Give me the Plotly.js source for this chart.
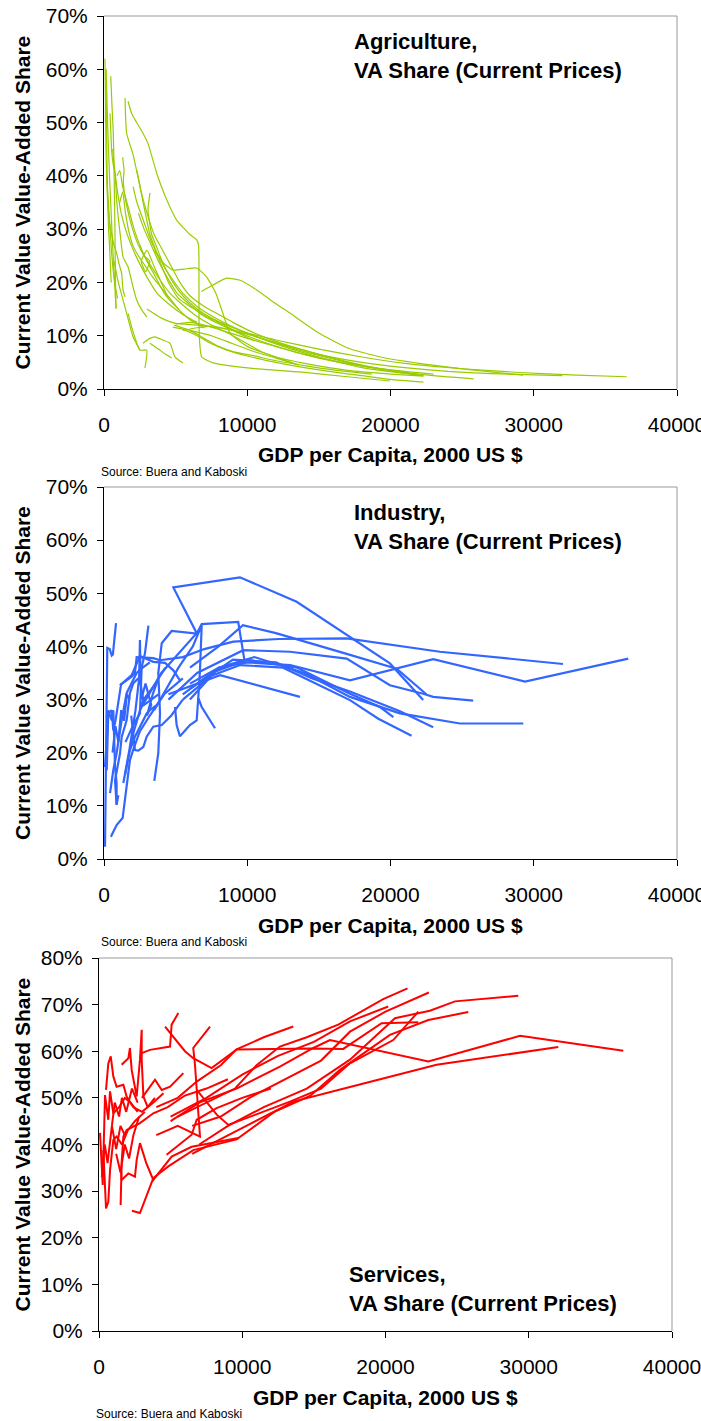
<!DOCTYPE html>
<html><head><meta charset="utf-8">
<script src="https://cdn.plot.ly/plotly-3.0.1.min.js"></script>
<style>html,body{margin:0;padding:0;background:#fff}#chart{width:701px;height:1421px}</style>
</head><body><div id="chart"></div>
<script>
// ---------- DATA (GDP per capita, 2000 US$ ; value-added share, %) ----------
const xTickVals = [0, 10000, 20000, 30000, 40000];
const xTickText = ['0', '10000', '20000', '30000', '40000'];
const panelTitles = ['Agriculture,<br>VA Share (Current Prices)', 'Industry,<br>VA Share (Current Prices)', 'Services,<br>VA Share (Current Prices)'];
const yTitle = 'Current Value Value-Added Share';
const xTitle = 'GDP per Capita, 2000 US $';
const sourceText = 'Source: Buera and Kaboski';

const agriX = [
 [70,100,140,200,280,400,540,700,880,1050,1230,1330,1470],
 [140,180,230,300,400,500,600,700,800,840],
 [420,480,540,650,770,880,1000,1120,1330,1680,2030,2280,2600,3000],
 [470,560,650,720,770,800,840],
 [100,130,160,200,250,320,400,500],
 [200,260,330,420,520,650,800,950],
 [1470,1580,2030,2510,3210,3900,4500,5200,6000,6470,7000,8000,9500,12000,15000,18000,21000,23000],
 [1680,1930,2280,2720,3080,3680,4380,5070,6000,6470,6600,6630,6650,6820,7620,10190,13680,17000,19960],
 [2030,2300,2700,3100,3500,3900,4300,4820,5500,6500,7500,9000,11000,14000,17000,20000,22000],
 [3210,3070,3330,3680,4200,4800,5500,6500,8000,10000,12500,15000,18000,22300],
 [1300,1400,1350,1470,1700,2000,2400,2800,3300,3900,4600,5400,6300,7500,9000,11000,13600],
 [6800,7600,8560,9500,10660,12000,13000,15000,17000,19300,22000,24000,27000,29250],
 [3500,4200,4820,5600,6470,7170,7800,8300,8800,10000,12000,14000,17000,20000,22300],
 [3000,4000,5000,6500,8000,10000,12000,15000,18000,21000,25000,29000,33000,36500],
 [4800,5500,6500,7500,8500,10000,12000,14000,16000,18000,20000,22300],
 [5000,6000,7000,8000,10000,12000,14000,17000,20000,23000,25800],
 [5500,6500,7500,9000,11000,13000,15000,18000,21000,24000,27000,32000],
 [6000,7500,9000,10500,12000,13600],
 [4900,6000,7000,8000,9000,10500,12000,14000,16000,18700],
 [1680,2000,2510,2980,2860],
 [3210,3800,4300,4720],
 [2720,3200,3560,4100,4600,4960,5520],
 [700,1000,1300,1600,2000,2510],
 [2500,2800,3200,2900,2600,3000,3500,4000,4500],
 [2300,2600,3000,3500,4100,4700,5300,6000,7000,8000,9000,10500,12500,15000,18000,20000],
 [900,1100,1300,1500,1800,2100,2500,3000,3600,4200,5000,6000,7000],
 [1100,1300,1500,1700,2000,2400,2900,3400,4000,4600,5200],
 [600,800,1000,1200,1500,1900,2400,3000,3700,4500,5500,6500],
 [2400,2800,3300,3800,4400,5100,5900,6800,7800,9000,10500]
];
const agriY = [
 [62,55,45,39,34,31,29,27,25.5,23.5,21.7,18.6,17.3],
 [60,57,52,46,39,33,27,22,17,15],
 [51.7,48,44.5,42,40.5,35.5,32,29.3,24.8,22.9,19.1,16.7,15,13.5],
 [58.7,53,48,38,29,20,15.2],
 [50,60,54,44,36,30,26,20],
 [40,37,34,30,26,22,19,17],
 [54.6,48,44,38,29,24,20,17,15.5,14.8,13.8,12.5,10.5,8,5.8,4.3,3.3,2.8],
 [54,51.7,50,48,46,40.5,35.5,31.7,29,28,27,20,10,6,4.9,3.9,3.2,2.3,1.5],
 [38,35,32,29,26.5,24.5,22.5,20,17.5,15,13.3,11.5,9.5,7,5,3.4,2.6],
 [36.8,33.6,29,26.6,23,20.5,18,15.5,13,10.5,8,6,4,2.5],
 [43.5,41,39,36,33,30,27,25,23,20.5,18,16,14,12,10,7,4.5],
 [18.3,19.5,20.8,20.4,18.6,16,14.2,10.5,7.7,6,4.8,4.1,3.2,2.6],
 [26,23.5,22.3,22.5,22.7,21,18,14.2,10.5,8,6,4.8,3.5,2.8,2.4],
 [15,13.3,12.3,12,11.5,10.5,9.2,7.5,6,4.8,3.8,3.1,2.6,2.3],
 [11.6,11.2,10,8.5,7.4,6.2,5,4,3.2,2.5,1.8,1.3],
 [12.2,12.5,12,11.2,9.5,8,6.5,4.8,3.5,2.5,1.9],
 [11,11.5,11.8,11,9.5,8,6.5,5,4,3.3,2.9,2.5],
 [11,10,8.5,7,5.8,4.5],
 [12,11,9.5,8,7,6.2,5.3,4.4,3.6,2.8],
 [14.2,11,7.3,7.3,3.9],
 [8.6,7.5,6.5,5.8],
 [8.6,9.5,9.8,9.2,8.6,6,4.9],
 [24,20,17,14,10,7.3],
 [27,25,24,22,24,26,23,20,17],
 [41,37,33,29,26,23,20,17.5,15.5,14,12.5,10.5,8.5,6.5,4.5,3.5],
 [40,41,38,36,33,30,27,24,21,18,15.5,13,11.5],
 [35,37,33,30,27,25,23,21,19,17,15],
 [45,40,36,33,30,27,24,21,18,16,14,12.5],
 [33,30,27,24,21,18,16,14,12.5,11,9]
];

const indX = [
 [2500,4000,6470,4840,9490,13450,19960,22280],
 [3510,3790,3910,3790,4030,4720,6470,6820,9370,9840],
 [3500,5200,6200,6820,6700,6580,6820,7750],
 [6000,8000,9700,12000,16820,20430,22500],
 [1120,1930,2160,2280,3440,3910,5500,7000,9030,12170,16940,23450,32040],
 [4500,6500,9720,12980,16940,19960,22280,22980,25770],
 [6000,8000,10000,13000,17170,22980,29390,36600],
 [5500,7500,10000,13500,17170,19270,20200],
 [6000,8000,10500,14000,17170,20660,24850,29270],
 [5500,7500,9500,12500,17170,19150,21470],
 [6000,9000,12000,14500,17170,20660,22980],
 [4500,6500,8100,13680],
 [70,230,400,540,620,840],
 [70,300,540,650,800,1000,1200],
 [420,650,880,1230,1580,1930,2280,2700,3200],
 [880,770,1120,1230,1580,1810,2050,2400],
 [1350,1580,1810,2050,2280,2510,2740,3100,3600],
 [1470,1810,2160,2510,2980,3210,3700],
 [1500,2000,2510,2630,2860,3100],
 [1800,2200,2450,2510,2550,2800,3300,3800],
 [1900,2000,2160,2400,2750,2980,3440,4030,4700,5500],
 [480,880,1300,1470,1580,1810,2030,2500,3200,4200,5500],
 [190,300,540,650,770,880,880,1000],
 [1120,1930,2510,3440,4260,4840,5300],
 [4960,5070,5300,6000,6470,6580],
 [600,800,1000,1200,1400,1600,1800],
 [2600,2900,3300,3000,3400,3800,4300]
];
const indY = [
 [28,35,42.5,51.1,53,48.4,36.8,29.9],
 [14.7,19.9,27.4,35,40.6,42.9,42.4,44.2,44.6,36.8],
 [28,36,40,44,35.5,30.3,28.6,24.6],
 [36,40,44,42.5,38.7,35.8,31],
 [32.7,34.3,35,38,37.8,37.4,38,39.5,40.9,41.4,41.5,39,36.7],
 [30,35,39.3,39,37.7,32.7,31.1,30.5,29.8],
 [33,36,37,36.5,33.6,37.6,33.4,37.7],
 [31,35,37.5,36,31.1,28.6,26.7],
 [30,36,38,35,30.5,27.4,25.5,25.5],
 [30,34.5,36.5,36,29.9,26.4,23.2],
 [32,37.5,37,34,31.5,27.8,24.8],
 [31,33,34.6,30.5],
 [2.3,39.7,39.5,38.3,38.5,44.4],
 [17.3,27.4,28,24.2,26,30,33],
 [12.4,16.7,19.9,26.1,31.2,33.1,35,36,37],
 [10.2,14.8,19.9,22.9,26.1,31.2,33.1,34],
 [14.3,18,21.1,23.7,26.1,28,29.9,31.2,33],
 [15.8,20.5,23,24.9,27.4,28,29],
 [22,25,27.4,36.1,38.7,43.9],
 [21,28,34,41.2,33,29,30,31],
 [27,24,20.5,20.4,21.1,23,24.9,25.2,27,30],
 [4.2,6.4,7.7,11.5,13,18.6,20.5,24,27,31,34],
 [16.7,28,26.1,28,17.3,14.3,10.2,12],
 [32.7,34.6,38.2,37.1,36.9,35.5,33.6],
 [28.6,25.2,23.1,25.2,26.1,30.3],
 [20,25,22,28,26,31,30],
 [30,33,29,27,31,34,36]
];

const servX = [
 [4610,6000,6580,7860,9610,14730,17050,19730,22290],
 [2300,2860,3790,4840,6580,9610,12280,13560,16700,23570,32060],
 [5000,7000,9600,12630,14960,16120,22990,29390,36600],
 [5500,7500,9500,11000,12630,14500,16700,19840,21540],
 [4000,5500,6820,8500,9610,11500,13560],
 [6500,8500,10500,13000,15500,17520,20000,23030],
 [7000,9000,11500,14500,17520,20660,23100,24850,29270],
 [6500,9000,12000,14730,16820,20310,22990,25780],
 [6820,8220,9030,11700,13330,15500,17520,20540,22290],
 [5000,7500,10000,12500,15000,17520,20190],
 [4000,5500,7050,6820,6700,6580,7750],
 [490,650,820,1000,1230,1700,1930,2400,3000,3800,4500],
 [70,260,420,650,770,1000,1400,1800,2200,2700],
 [300,490,650,770,1000,1230,1600,2000,2500,3200],
 [1510,1580,1700,1930,2860,3790,4800,6000,7500,9000],
 [1580,2050,2160,2280,2630,2860,2980,2980,3100,3400,3900],
 [2980,3560,4960,5070,5540],
 [3000,3500,3910,4380,4960,5890],
 [1535,1580,2050,2510,2630,2860,3300,3790,5070,6470,9720],
 [4720,6470,6820,8210,10000,12000],
 [200,400,600,900,1200,1500,1800],
 [900,1100,1400,1600,1900,2300,2700],
 [1200,1500,1800,2100,2400,2800]
];
const servY = [
 [65.3,60,58.5,56.4,60.4,60.6,60.5,66,66.2],
 [25.8,25.3,32.8,35.3,38.8,41.1,47.1,49.2,51.7,57.1,60.9],
 [45,49,52,56.7,60.7,62.4,57.8,63.3,60.1],
 [46,49,52,57,61,63,65.7,71.2,73.5],
 [48,50,53.5,57,60.4,63,65.3],
 [44,46,50,54,58,64.2,68.5,72.6],
 [40,44,48,52,58.2,67.1,68.7,70.7,71.9],
 [38,42,46.7,50.4,56,63.5,66.7,68.4],
 [51.7,46.4,44.2,47.4,49.2,52,57.4,62.4,68.5],
 [46,50,55,59,62,66.4,69.6],
 [42,44,41.7,52.4,57.1,60.7,65.3],
 [51.7,57.4,58.9,54.6,52.4,52.8,50.3,48,47,49,51],
 [42.5,31.3,50.6,45.3,51.4,46.7,48,50,49,47],
 [38.8,26.3,27.7,34.5,41,41.7,40,43,45,47],
 [27,36,41.7,43.1,44.6,46.7,48,50.5,52,54],
 [57.1,58.5,60.7,56,50.3,58.2,64.6,58.2,50.3,48,50],
 [59.6,60.3,61,65.7,68.2],
 [50,52,53.9,51.7,52.4,55.3],
 [34.9,32.4,33.8,33.1,36.7,40.3,36,32.4,37.4,39.5,41.4],
 [37.8,42.1,45.3,47.8,50,52],
 [33,40,36,44,39,44,42],
 [44,49,46,50,47,52,49],
 [38,34,40,37,42,46]
];

// ---------- LAYOUT (pixel geometry of the three panels) ----------
const W = 701, H = 1421;
const FONT = 'Arial, "Liberation Sans", sans-serif';
const fx = p => p / W, fy = p => 1 - p / H;
const panels = [
  {xs: agriX, ys: agriY, color: '#99CC00', lw: 1.2, shape: 'spline', L: 104, R: 677, T: 16, B: 389, ymax: 70, titleY: 56, titleX: 352},
  {xs: indX, ys: indY, color: '#3366FF', lw: 2.2, shape: 'linear', L: 104, R: 677, T: 487, B: 859, ymax: 70, titleY: 527, titleX: 352},
  {xs: servX, ys: servY, color: '#FF0000', lw: 2.0, shape: 'linear', L: 99, R: 672, T: 958, B: 1331, ymax: 80, titleY: 1289, titleX: 347}
];

const traces = [], annotations = [], shapes = [];
const layout = {
  width: W, height: H, margin: {l: 0, r: 0, t: 0, b: 0},
  paper_bgcolor: '#fff', plot_bgcolor: '#fff', showlegend: false,
  font: {family: FONT, color: '#000'}
};

panels.forEach((p, i) => {
  const n = i === 0 ? '' : String(i + 1);
  const xa = 'x' + n, ya = 'y' + n;
  p.xs.forEach((xv, k) => {
    traces.push({x: xv, y: p.ys[k], xaxis: xa, yaxis: ya, type: 'scatter', mode: 'lines',
      line: {color: p.color, width: p.lw, shape: p.shape, smoothing: 0.5}, hoverinfo: 'skip'});
  });
  const yt = [];
  for (let v = 0; v <= p.ymax; v += 10) yt.push(v);
  layout['xaxis' + n] = {
    domain: [fx(p.L), fx(p.R)], anchor: ya, range: [0, 40000], fixedrange: true,
    tickvals: xTickVals, ticktext: xTickText, ticks: 'outside', ticklen: 6, tickwidth: 1, tickcolor: '#000',
    ticklabelstandoff: 11, ticklabeloverflow: 'allow', tickfont: {size: 21, family: FONT, color: '#000'},
    showline: true, linecolor: '#000', linewidth: 1, showgrid: false, zeroline: false
  };
  layout['yaxis' + n] = {
    domain: [fy(p.B), fy(p.T)], anchor: xa, range: [0, p.ymax], fixedrange: true,
    tickvals: yt, ticktext: yt.map(v => v + '%'), ticks: 'outside', ticklen: 6, tickwidth: 1, tickcolor: '#000',
    ticklabelstandoff: 5, tickfont: {size: 21, family: FONT, color: '#000'},
    showline: true, linecolor: '#000', linewidth: 1, showgrid: false, zeroline: false
  };
  shapes.push({type: 'line', xref: xa + ' domain', yref: ya + ' domain', x0: 0, x1: 1, y0: 1, y1: 1, line: {color: '#999', width: 1}});
  shapes.push({type: 'line', xref: xa + ' domain', yref: ya + ' domain', x0: 1, x1: 1, y0: 0, y1: 1, line: {color: '#999', width: 1}});
  annotations.push({xref: 'paper', yref: 'paper', x: fx(p.titleX), y: fy(p.titleY), xanchor: 'left', yanchor: 'middle',
    align: 'left', showarrow: false, text: '<b>' + panelTitles[i].replace('<br>', '</b><br><b>') + '</b>',
    font: {size: 22, family: FONT, color: '#000'}});
  annotations.push({xref: 'paper', yref: 'paper', x: fx(22), y: fy((p.T + p.B) / 2), xanchor: 'center', yanchor: 'middle',
    textangle: -90, showarrow: false, text: '<b>' + yTitle + '</b>', font: {size: 21, family: FONT, color: '#000'}});
  annotations.push({xref: 'paper', yref: 'paper', x: fx((p.L + p.R) / 2), y: fy(p.B + 66), xanchor: 'center', yanchor: 'middle',
    showarrow: false, text: '<b>' + xTitle + '</b>', font: {size: 21, family: FONT, color: '#000'}});
  annotations.push({xref: 'paper', yref: 'paper', x: fx(p.L - 5), y: fy(p.B + 83), xanchor: 'left', yanchor: 'middle',
    showarrow: false, text: sourceText, font: {size: 12, family: FONT, color: '#000'}});
});
layout.annotations = annotations;
layout.shapes = shapes;

Plotly.newPlot('chart', traces, layout, {staticPlot: true, displayModeBar: false});
</script>
</body></html>
